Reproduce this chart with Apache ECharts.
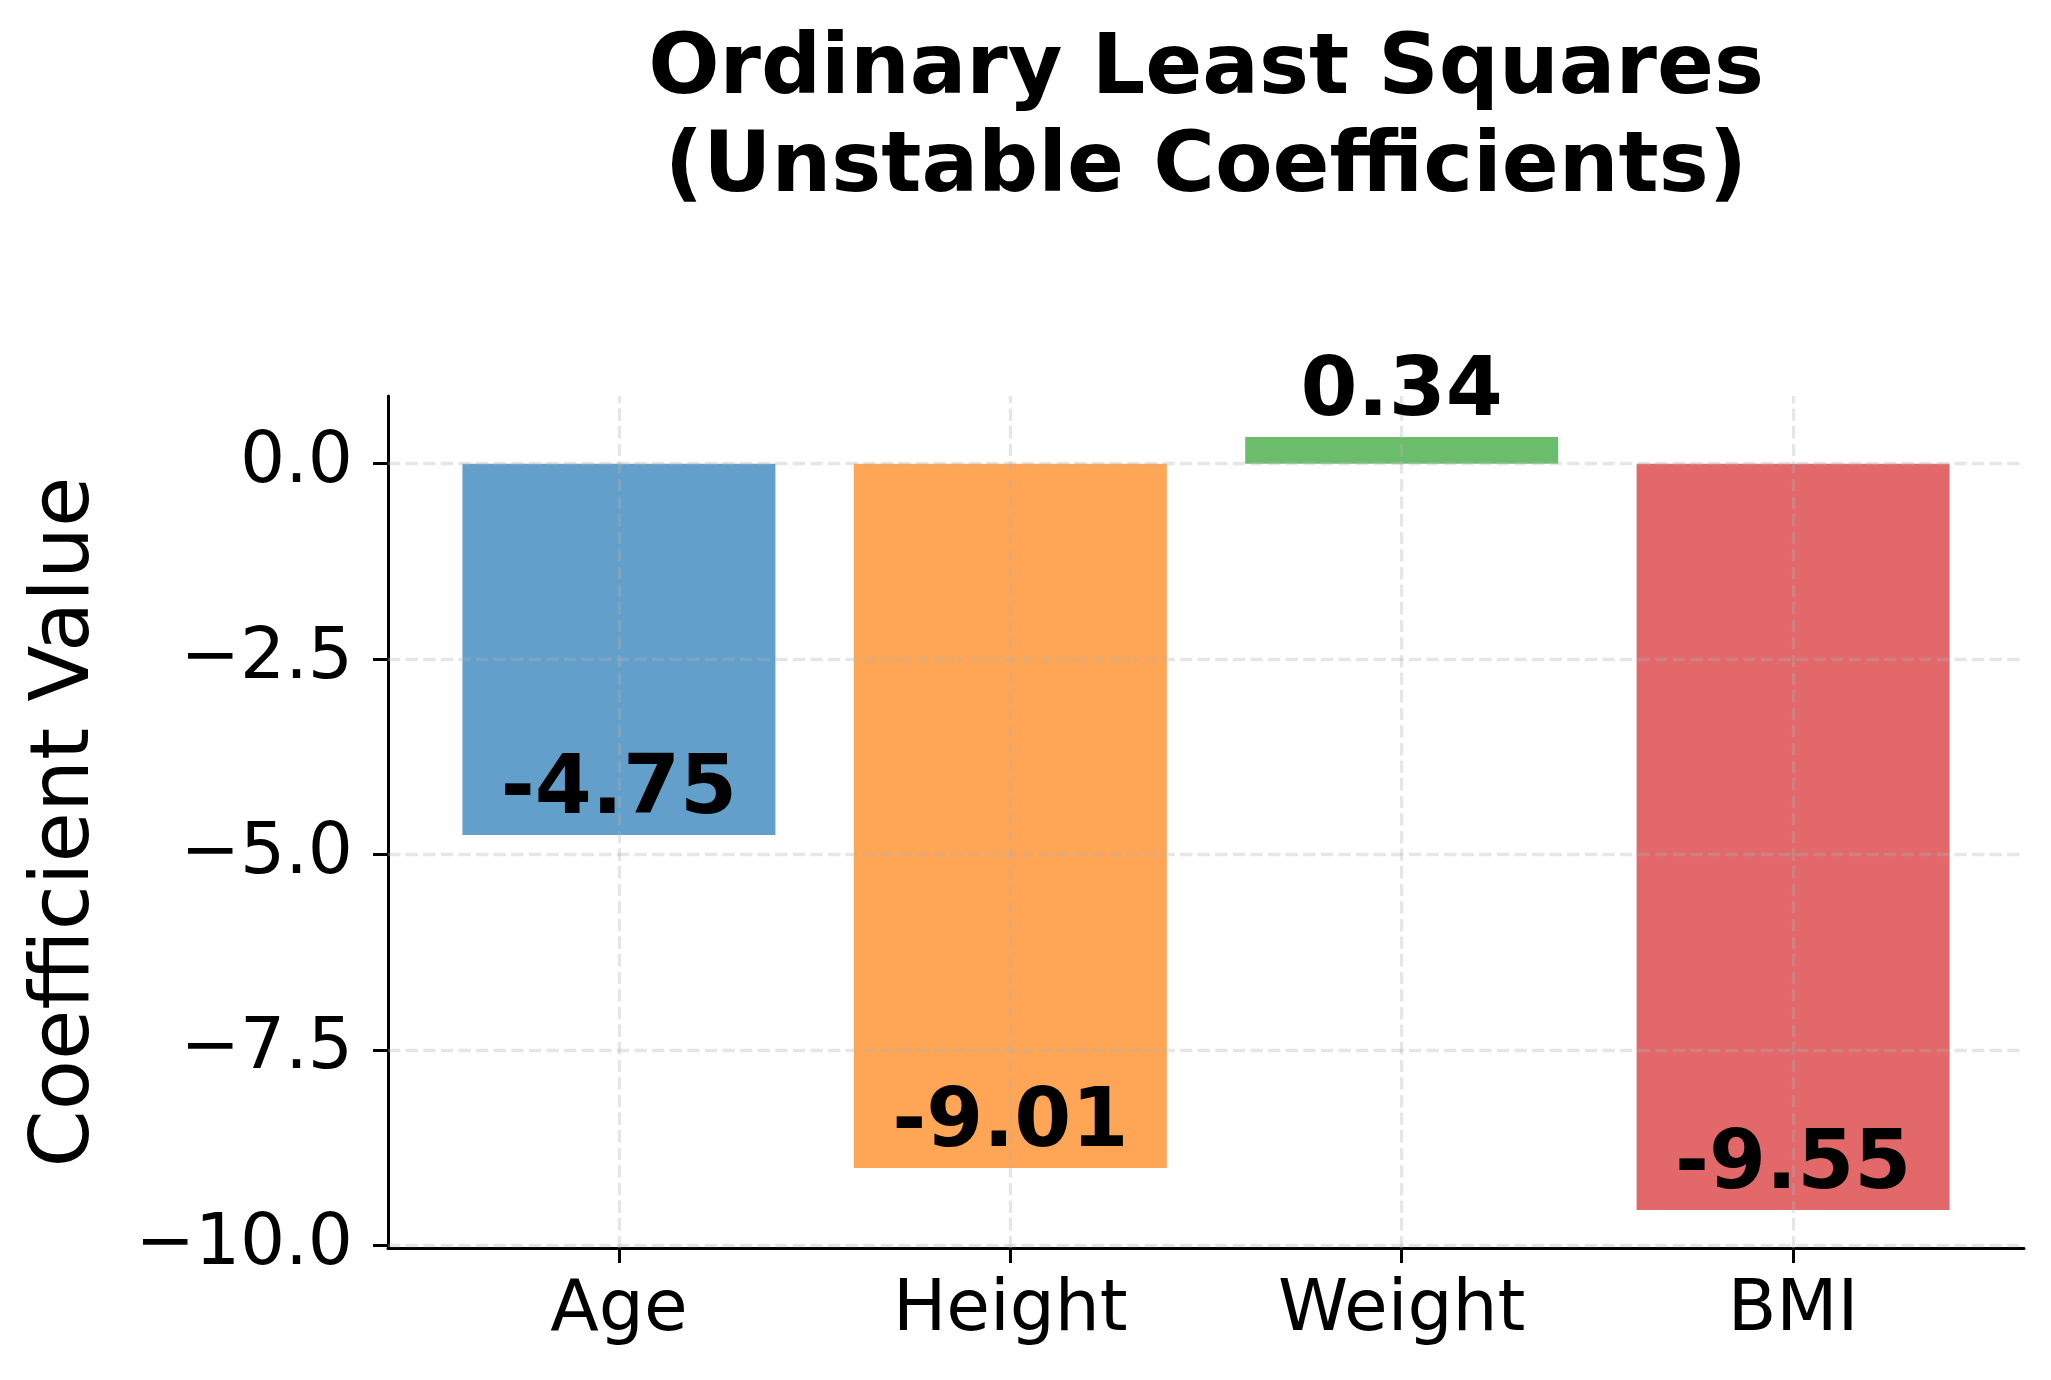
<!DOCTYPE html>
<html>
<head>
<meta charset="utf-8">
<script src="https://cdn.jsdelivr.net/npm/echarts@6/dist/echarts.min.js"></script>
<style>
  html, body { margin: 0; padding: 0; background: #ffffff; }
  #chart { width: 2051px; height: 1380px; }
</style>
</head>
<body>
<div id="chart"></div>
<script>
// ---- data ----
const categories = ['Age', 'Height', 'Weight', 'BMI'];
const coefficients = [-4.75, -9.01, 0.34, -9.55];
const yTicks = [-10, -7.5, -5, -2.5, 0];
const titleText = 'Ordinary Least Squares\n(Unstable Coefficients)';
const yAxisTitle = 'Coefficient Value';

// ---- styles ----
const barColors = ['#62a0cb', '#ffa556', '#6bbd6b', '#e2686a'];
const gridColor = 'rgba(176,176,176,0.32)';
const FONT = '"DejaVu Sans", sans-serif';

const positions = categories.map((c, i) => i);
const gridLineData = positions.map(p => ({ xAxis: p }))
  .concat(yTicks.map(t => ({ yAxis: t })));

const chart = echarts.init(document.getElementById('chart'), null, { renderer: 'canvas' });

chart.setOption({
  animation: false,
  backgroundColor: '#ffffff',
  graphic: [{
    type: 'text',
    x: 1206,
    y: 22,
    z: 10,
    style: {
      text: titleText,
      fontFamily: FONT,
      fontWeight: 'bold',
      fontSize: 84,
      lineHeight: 98,
      align: 'center',
      verticalAlign: 'top',
      fill: '#000000'
    }
  }],
  grid: { left: 388, top: 396, width: 1636, height: 852, containLabel: false },
  xAxis: {
    type: 'value',
    min: -0.59,
    max: 3.59,
    axisLine: { show: true, onZero: false, lineStyle: { color: '#000', width: 3 } },
    axisTick: { show: true, customValues: positions, length: 15, lineStyle: { color: '#000', width: 3 } },
    axisLabel: {
      show: true,
      customValues: positions,
      formatter: v => categories[Math.round(v)],
      fontFamily: FONT,
      fontSize: 71,
      color: '#000',
      margin: 28
    },
    splitLine: { show: false }
  },
  yAxis: {
    type: 'value',
    min: -10.035,
    max: 0.866,
    name: yAxisTitle,
    nameLocation: 'middle',
    nameGap: 280,
    nameTextStyle: { fontFamily: FONT, fontSize: 82, color: '#000' },
    axisLine: { show: true, onZero: false, lineStyle: { color: '#000', width: 3 } },
    axisTick: { show: true, customValues: yTicks, length: 15, lineStyle: { color: '#000', width: 3 } },
    axisLabel: {
      show: true,
      customValues: yTicks,
      formatter: v => (v < 0 ? '\u2212' : '') + Math.abs(v).toFixed(1),
      fontFamily: FONT,
      fontSize: 71,
      color: '#000',
      margin: 35
    },
    splitLine: { show: false }
  },
  series: [
    {
      type: 'bar',
      barWidth: 313,
      data: coefficients.map((v, i) => ({
        value: [positions[i], v],
        itemStyle: { color: barColors[i] }
      })),
      markLine: {
        silent: true,
        symbol: ['none', 'none'],
        label: { show: false },
        lineStyle: { color: gridColor, width: 3.3, type: [12.3, 5.3] },
        data: gridLineData,
        z: 3
      },
      z: 2
    },
    {
      type: 'scatter',
      symbolSize: 0,
      z: 6,
      itemStyle: { opacity: 1 },
      data: coefficients.map((v, i) => [positions[i], v]),
      label: {
        show: true,
        position: 'top',
        distance: 2,
        formatter: p => p.value[1].toFixed(2),
        fontFamily: FONT,
        fontWeight: 'bold',
        fontSize: 82,
        lineHeight: 82,
        color: '#000',
        opacity: 1
      }
    }
  ]
});
</script>
</body>
</html>
